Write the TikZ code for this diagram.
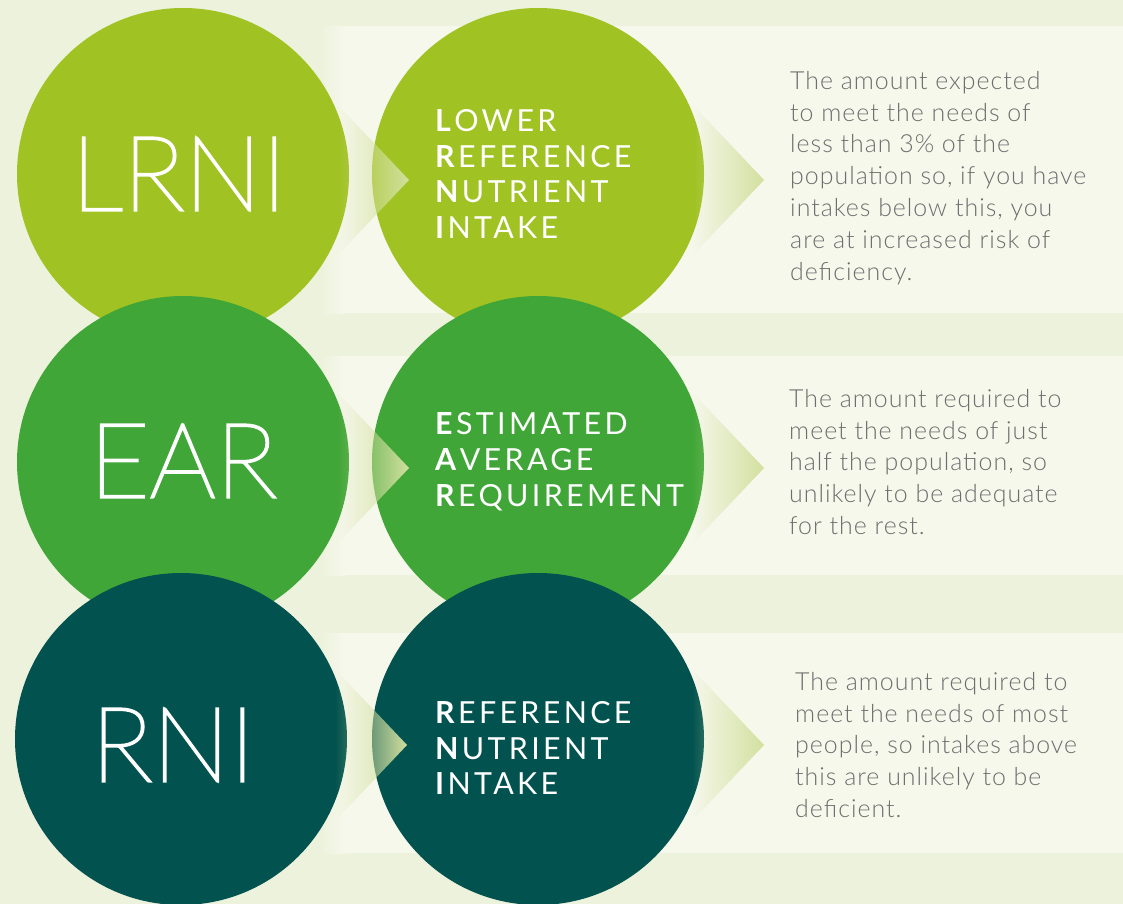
\documentclass[tikz,border=0pt]{standalone}
\usepackage{fontspec}
\setmainfont{Lato Light}[LetterSpace=4]
\newfontfamily\hairfont{Lato Hairline}[AutoFakeBold=2.5]
\newfontfamily\capsfont{Lato}[BoldFont={Lato Bold},LetterSpace=11]
\usetikzlibrary{fadings}

\definecolor{bg}{HTML}{EDF2DC}
\definecolor{panel}{HTML}{F6F8EC}
\definecolor{lime}{HTML}{A0C222}
\definecolor{leaf}{HTML}{40A637}
\definecolor{teal}{HTML}{025250}
\definecolor{chev}{HTML}{D3E09F}
\definecolor{ink}{HTML}{6E6E6E}

\tikzfading[name=chevfade,left color=transparent!100,right color=transparent!0]

% chevron pointing right, placed against a circle node
\newcommand\chevron[1]{\fill[chev,path fading=chevfade]
  ([shift={(154,-70)}]#1.center) -- ([shift={(226,6)}]#1.center) -- ([shift={(154,82)}]#1.center) -- cycle;}

\begin{document}
\begin{tikzpicture}[x=1bp,y=-1bp,every node/.style={inner sep=0,align=left},
  disc/.style={circle,minimum size=332bp},
  tag/.style={font=\hairfont\bfseries\fontsize{104}{104}\selectfont,text=white},
  words/.style={anchor=west,font=\capsfont\fontsize{30.5}{36}\selectfont,text=white},
  blurb/.style={anchor=west,font=\fontsize{25}{32}\selectfont,text=ink}]
\path[use as bounding box] (0,0) rectangle (1123,904);
\fill[bg] (0,0) rectangle (1123,904);
\foreach \ya/\yb in {26/313,356/575,633/853}{
  \shade[left color=bg,right color=panel] (320,\ya) rectangle (345,\yb);
  \fill[panel] (345,\ya) rectangle (1123,\yb);}

% LRNI
\node[disc,fill=lime] (lrni) at (183,174) {};
\node[disc,fill=lime] (lrniwords) at (538,174) {};
\chevron{lrni}
\chevron{lrniwords}
\node[tag] (lrnitag) at (179,174) {LRNI};
\node[words] (lrnitext) at (435,174) {\textbf{L}OWER\\\textbf{R}EFERENCE\\\textbf{N}UTRIENT\\\textbf{I}NTAKE};
\node[blurb] (lrniblurb) at (790,178) {The amount expected\\to meet the needs of\\less than 3\% of the\\population so, if you have\\intakes below this, you\\are at increased risk of\\deficiency.};

% EAR
\node[disc,fill=leaf] (ear) at (183,462) {};
\node[disc,fill=leaf] (earwords) at (538,462) {};
\chevron{ear}
\chevron{earwords}
\node[tag] (eartag) at (183,461) {EAR};
\node[words] (eartext) at (435,462) {\textbf{E}STIMATED\\\textbf{A}VERAGE\\\textbf{R}EQUIREMENT};
\node[blurb] (earblurb) at (789,462) {The amount required to\\meet the needs of just\\half the population, so\\unlikely to be adequate\\for the rest.};

% RNI
\node[disc,fill=teal] (rni) at (181,739) {};
\node[disc,fill=teal] (rniwords) at (538,739) {};
\chevron{rni}
\chevron{rniwords}
\node[tag] (rnitag) at (173,745) {RNI};
\node[words] (rnitext) at (435,748) {\textbf{R}EFERENCE\\\textbf{N}UTRIENT\\\textbf{I}NTAKE};
\node[blurb] (rniblurb) at (795,745) {The amount required to\\meet the needs of most\\people, so intakes above\\this are unlikely to be\\deficient.};
\end{tikzpicture}
\end{document}
